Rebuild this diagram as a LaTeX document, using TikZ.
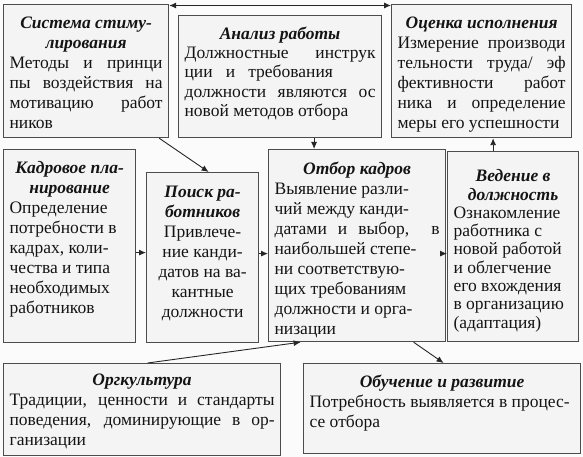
\documentclass[tikz,border=0pt]{standalone}
\usepackage{fontspec}
\setmainfont{Liberation Serif}
\usetikzlibrary{arrows.meta}
\hyphenpenalty=10000
\exhyphenpenalty=10000
\newcommand{\jl}[1]{\makebox[\linewidth][s]{#1}\\}
\newcommand{\ttl}[1]{{\centering\bfseries\itshape #1\par}}
\newcommand{\mybox}[6]{%
  \node[boxst, minimum width=#4pt, minimum height=#5pt] (#1) at (#2,#3)
  {\parbox[c][#5pt][t]{\dimexpr #4pt-12pt\relax}{#6}};}
\begin{document}
\begin{tikzpicture}[x=1pt,y=-1pt,
  >={Latex[length=7pt,width=6pt]},
  boxst/.style={draw=black!70, line width=1.2pt, fill=gray!9, inner sep=0pt,
    anchor=north west, text=black!92, font=\fontsize{17.5}{20}\selectfont},
  arr/.style={->, line width=0.9pt, draw=black!85}]
\fill[gray!3] (0,0) rectangle (583,457);
\useasboundingbox (0,0) rectangle (583,457);

\mybox{sis}{3}{4}{165}{133}{\vspace*{12pt}\ttl{Система стиму-\\лирования}%
  \jl{Методы и принци}\jl{пы воздействия на}\jl{мотивацию работ}ников}
\mybox{an}{178}{15}{203}{122}{\fontsize{17.5}{19.3}\selectfont\vspace*{11pt}\ttl{Анализ работы}%
  \jl{Должностные инструк}ции~~ и~~ требования\\\jl{должности являются ос}новой методов отбора}
\mybox{ots}{391}{4}{180}{133}{\vspace*{12pt}\ttl{Оценка исполнения}%
  \jl{Измерение производи}\jl{тельности труда/ эф}\jl{фективности работ}\jl{ника и определение}меры его успешности}
\mybox{kad}{3}{149}{132}{193}{\vspace*{12pt}\ttl{Кадровое пла-\\нирование}%
  Определение\\потребности в\\кадрах, коли-\\чества и типа\\необходимых\\работников}
\mybox{poisk}{146}{172}{112}{170}{\vspace*{13pt}\ttl{Поиск ра-\\ботников}%
  {\centering Привлече-\\ние канди-\\датов на ва-\\кантные\\должности\par}}
\mybox{otbor}{268}{149}{177}{192}{\vspace*{12pt}\ttl{Отбор кадров}%
  Выявление разли-\\чий между канди-\\\jl{датами и выбор,\ \ в}наибольшей степе-\\ни соответствую-\\щих требованиям\\должности и орга-\\низации}
\mybox{ved}{447}{151}{131}{190}{\fontsize{17.5}{18.3}\selectfont\vspace*{18pt}\ttl{Ведение в\\должность}%
  Ознакомление\\работника с\\новой работой\\и облегчение\\его вхождения\\в организацию\\(адаптация)}
\mybox{org}{3}{363}{277}{92}{\vspace*{10pt}\ttl{Оргкультура}%
  \jl{Традиции, ценности и стандарты}\jl{поведения, доминирующие в ор-}ганизации}
\mybox{ob}{303}{363}{277}{90}{\vspace*{11pt}\ttl{Обучение и развитие}%
  Потребность выявляется в процес-\\се отбора}

\draw[arr,<->] ([yshift=-1.5pt]sis.north east) -- ([yshift=-1.5pt]sis.north east -| ots.west);
\draw[arr] ([xshift=-10pt]sis.south east) -- ([xshift=6pt]poisk.north);
\draw[arr] ([xshift=34pt]an.south) -- ([xshift=34pt]an.south |- otbor.north);
\draw[arr] ([yshift=-6.5pt]kad.east) -- ([yshift=-6.5pt]kad.east -| poisk.west);
\draw[arr] ([yshift=4pt]poisk.east) -- ([yshift=4pt]poisk.east -| otbor.west);
\draw[arr] ([yshift=-8pt]otbor.east) -- ([yshift=-8pt]otbor.east -| ved.west);
\draw[arr] ([xshift=-20pt]ved.north) -- ([xshift=-20pt]ved.north |- ots.south);
\draw[arr] ([xshift=5.5pt]org.north) -- ([xshift=-56.5pt]otbor.south);
\draw[arr] ([xshift=56.5pt]otbor.south) -- ([xshift=1.5pt]ob.north);
\end{tikzpicture}
\end{document}
